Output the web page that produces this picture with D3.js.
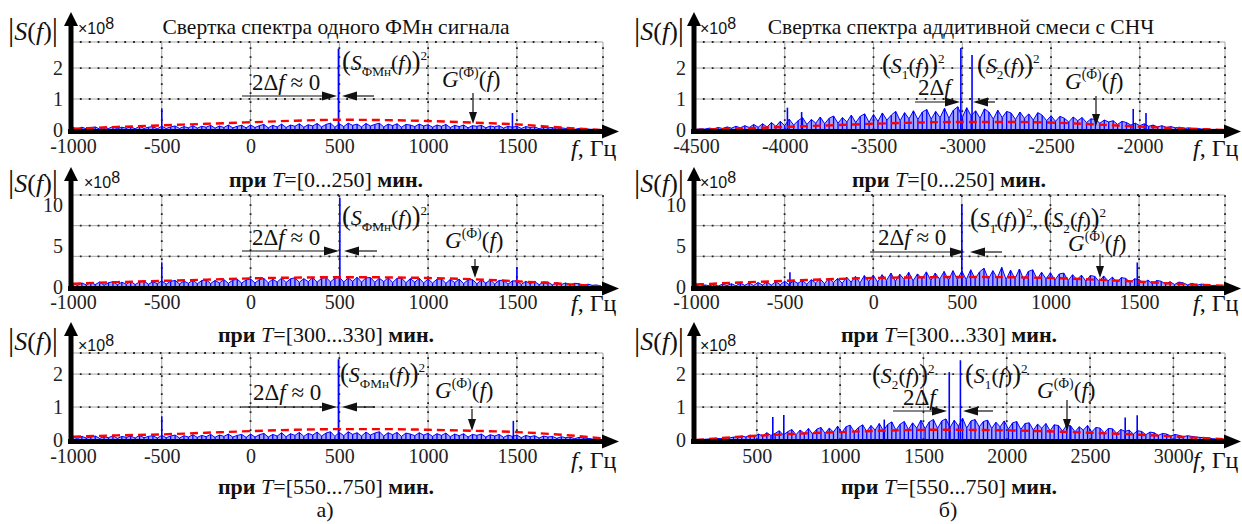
<!DOCTYPE html>
<html lang="ru">
<head>
<meta charset="utf-8">
<title>Свертка спектра</title>
<script src="https://cdn.jsdelivr.net/npm/d3@7"></script>
<style>
  body { margin: 0; background: #fff; }
  svg { display: block; }
  text { font-family: "Liberation Serif", "Times New Roman", serif; }
</style>
</head>
<body>
<script>
// ---- data ----
var titles = ["Свертка спектра одного ФМн сигнала", "Свертка спектра аддитивной смеси с СНЧ"];
var periods = ["0...250", "300...330", "550...750"];
var panelLetters = ["а)", "б)"];

var xDomainA = [-1000, 1985];
var xDomainB1 = [-4500, -1520];
var xDomainB3 = [135, 3310];
var xTicksA = [-1000, -500, 0, 500, 1000, 1500];
var xTicksB1 = [-4500, -4000, -3500, -3000, -2500, -2000];
var xTicksB3 = [500, 1000, 1500, 2000, 2500, 3000];
var yTicksSmall = [0, 1, 2];
var yTicksBig = [0, 5, 10];
var yGridSmall = [1, 2];
var yGridBig = [3.75, 7.5];
var yMaxRow = [2.84, 11.25, 2.64];
var step = 25; // Hz between spectrum samples

var noiseA1 = [
  0.08,0.03,0.09,0.04,0.07,0.10,0.03,0.08,0.05,0.11,0.04,0.09,0.06,0.10,0.04,0.12,0.05,0.09,0.11,0.04,
  0.12,0.05,0.10,0.13,0.05,0.11,0.07,0.14,0.06,0.12,0.09,0.15,0.06,0.13,0.08,0.16,0.07,0.12,0.15,0.07,
  0.16,0.08,0.14,0.18,0.07,0.15,0.10,0.19,0.08,0.16,0.12,0.20,0.09,0.17,0.13,0.21,0.10,0.18,0.22,0.09,
  0.20,0.11,0.22,0.15,0.19,0.10,0.21,0.13,0.18,0.22,0.10,0.19,0.14,0.20,0.09,0.18,0.16,0.11,0.19,0.13,
  0.17,0.09,0.16,0.12,0.18,0.08,0.15,0.11,0.16,0.07,0.14,0.12,0.15,0.07,0.13,0.10,0.14,0.06,0.12,0.09,
  0.12,0.05,0.11,0.08,0.10,0.04,0.09,0.07,0.08,0.03,0.07,0.05,0.06,0.02,0.05,0.04,0.03,0.02,0.02,0.01];
var noiseA2 = [
  0.45,0.20,0.50,0.25,0.55,0.30,0.60,0.22,0.52,0.65,0.28,0.58,0.35,0.68,0.30,0.62,0.72,0.33,0.66,0.40,
  0.75,0.35,0.70,0.80,0.38,0.72,0.45,0.85,0.40,0.78,0.88,0.42,0.80,0.50,0.90,0.45,0.84,0.95,0.48,0.86,
  0.98,0.50,0.90,1.05,0.52,0.95,0.60,1.10,0.55,1.00,1.12,0.58,1.02,0.65,1.15,0.60,1.05,1.18,0.62,1.08,
  1.20,0.62,1.10,0.70,1.18,0.60,1.12,1.15,0.58,1.08,0.66,1.14,0.55,1.05,1.10,0.52,1.02,0.60,1.06,0.50,
  0.98,0.48,0.95,1.00,0.45,0.92,0.55,0.96,0.42,0.88,0.90,0.40,0.85,0.48,0.86,0.38,0.80,0.82,0.35,0.75,
  0.72,0.32,0.70,0.40,0.68,0.28,0.62,0.60,0.26,0.55,0.30,0.50,0.22,0.45,0.40,0.18,0.35,0.20,0.25,0.10];
var noiseA3 = [
  0.10,0.04,0.11,0.06,0.09,0.12,0.05,0.10,0.07,0.13,0.05,0.11,0.08,0.12,0.06,0.14,0.07,0.11,0.13,0.06,
  0.14,0.07,0.12,0.15,0.06,0.13,0.09,0.16,0.08,0.14,0.10,0.17,0.08,0.15,0.11,0.18,0.09,0.14,0.17,0.08,
  0.18,0.09,0.16,0.20,0.09,0.17,0.12,0.22,0.10,0.19,0.14,0.23,0.11,0.20,0.15,0.24,0.12,0.21,0.25,0.11,
  0.23,0.13,0.25,0.17,0.22,0.12,0.24,0.15,0.21,0.25,0.12,0.22,0.16,0.23,0.11,0.21,0.18,0.13,0.22,0.15,
  0.20,0.11,0.19,0.14,0.21,0.10,0.18,0.13,0.19,0.09,0.17,0.14,0.18,0.09,0.16,0.12,0.17,0.08,0.15,0.11,
  0.15,0.07,0.14,0.10,0.13,0.06,0.12,0.09,0.11,0.05,0.10,0.07,0.09,0.04,0.08,0.06,0.05,0.03,0.04,0.02];
var noiseB1 = [
  0.02,0.04,0.03,0.06,0.04,0.08,0.05,0.10,0.06,0.12,0.07,0.14,0.08,0.18,0.09,0.20,0.10,0.24,0.12,0.28,
  0.14,0.35,0.16,0.30,0.40,0.18,0.34,0.22,0.42,0.20,0.38,0.45,0.22,0.40,0.26,0.48,0.24,0.44,0.52,0.25,
  0.50,0.28,0.55,0.32,0.48,0.60,0.30,0.56,0.36,0.62,0.34,0.58,0.66,0.35,0.60,0.40,0.70,0.38,0.64,0.75,
  0.40,0.72,0.45,0.62,0.38,0.68,0.58,0.35,0.64,0.40,0.60,0.55,0.34,0.58,0.38,0.52,0.32,0.56,0.48,0.30,
  0.46,0.28,0.44,0.38,0.26,0.42,0.30,0.40,0.24,0.36,0.34,0.22,0.32,0.26,0.30,0.18,0.28,0.24,0.16,0.22,
  0.14,0.20,0.12,0.16,0.10,0.14,0.08,0.11,0.07,0.09,0.05,0.07,0.04,0.05,0.03,0.04,0.02,0.02,0.01,0.01];
var noiseB2 = [
  0.20,0.10,0.25,0.15,0.30,0.12,0.35,0.18,0.40,0.15,0.45,0.20,0.50,0.18,0.55,0.25,0.60,0.22,0.65,0.28,
  0.70,0.30,0.75,0.45,0.80,0.35,0.90,0.50,1.00,0.40,1.10,0.55,1.05,0.45,1.20,0.60,1.30,0.50,1.40,0.65,
  1.45,0.60,1.50,0.80,1.70,0.70,1.55,0.90,1.80,0.75,1.60,1.00,1.85,0.80,1.70,0.95,1.90,0.85,2.00,0.90,
  1.95,0.90,2.10,1.00,1.85,2.30,0.95,2.00,1.10,2.40,0.90,2.05,1.00,2.20,0.85,1.90,2.10,0.95,1.80,1.00,
  1.75,0.85,1.60,1.70,0.80,1.50,0.90,1.45,0.70,1.40,1.30,0.65,1.35,0.75,1.20,0.60,1.15,1.05,0.55,1.00,
  0.90,0.45,0.85,0.40,0.80,0.70,0.35,0.65,0.30,0.60,0.50,0.25,0.45,0.20,0.35,0.30,0.15,0.20,0.10,0.05];
var noiseB3 = [
  0.01,0.02,0.02,0.03,0.04,0.05,0.04,0.07,0.06,0.09,
  0.08,0.12,0.09,0.15,0.10,0.18,0.12,0.22,0.14,0.20,
  0.28,0.15,0.25,0.32,0.16,0.30,0.20,0.35,0.18,0.33,
  0.38,0.20,0.36,0.24,0.42,0.22,0.40,0.45,0.25,0.38,
  0.46,0.26,0.44,0.30,0.50,0.28,0.47,0.55,0.30,0.48,
  0.56,0.32,0.52,0.36,0.60,0.34,0.55,0.62,0.35,0.58,
  0.64,0.38,0.60,0.42,0.66,0.36,0.58,0.62,0.40,0.56,
  0.60,0.35,0.54,0.40,0.58,0.33,0.52,0.56,0.32,0.50,
  0.52,0.30,0.48,0.36,0.50,0.28,0.46,0.44,0.27,0.45,
  0.42,0.25,0.40,0.30,0.44,0.24,0.38,0.36,0.22,0.35,
  0.34,0.20,0.32,0.26,0.30,0.18,0.28,0.26,0.16,0.24,
  0.22,0.14,0.20,0.18,0.12,0.17,0.14,0.10,0.13,0.11,
  0.09,0.08,0.07,0.06,0.04,0.03,0.02,0.01];

// narrow spectral lines [f, |S|]
var peaksA1 = [[-500, 0.70], [495, 2.62], [1475, 0.55]];
var peaksA2 = [[-500, 3.0], [503, 10.9], [1500, 2.4]];
var peaksA3 = [[-500, 0.72], [495, 2.45], [1480, 0.58]];
var peaksB1 = [[-3985, 0.72], [-3905, 0.58], [-3008, 2.65], [-2945, 2.42], [-2037, 0.68], [-1965, 0.55]];
var peaksB2 = [[-470, 1.8], [500, 10.1], [1490, 3.0]];
var peaksB3 = [[596, 0.70], [662, 0.76], [1265, 0.62], [1655, 2.06], [1722, 2.42], [2380, 0.45], [2711, 0.68], [2783, 0.75]];

// G(Ф)(f) curves
var gFreqA = [-1000, -750, -500, -250, 0, 250, 500, 750, 1000, 1250, 1500, 1750, 1985];
var gA1 = [0.04, 0.10, 0.15, 0.20, 0.25, 0.30, 0.33, 0.32, 0.29, 0.24, 0.18, 0.08, 0.0];
var gA2 = [0.40, 0.60, 0.75, 0.90, 1.05, 1.15, 1.20, 1.18, 1.10, 0.95, 0.70, 0.40, 0.05];
var gA3 = [0.10, 0.14, 0.17, 0.22, 0.27, 0.31, 0.33, 0.33, 0.31, 0.28, 0.24, 0.16, 0.05];
var gFreqB1 = [-4500, -4250, -4000, -3750, -3500, -3250, -3000, -2750, -2500, -2250, -2000, -1750, -1520];
var gB1 = [0.0, 0.05, 0.10, 0.15, 0.20, 0.24, 0.26, 0.26, 0.24, 0.18, 0.11, 0.05, 0.0];
var gB2 = [0.30, 0.55, 0.75, 0.95, 1.10, 1.18, 1.22, 1.20, 1.10, 0.90, 0.65, 0.35, 0.15];
var gFreqB3 = [135, 400, 700, 1000, 1300, 1600, 1900, 2200, 2500, 2800, 3100, 3310];
var gB3 = [0.0, 0.10, 0.18, 0.24, 0.29, 0.31, 0.30, 0.27, 0.22, 0.16, 0.08, 0.02];

// ---- layout ----
var W = 1242, H = 524;
var serif = "Liberation Serif, Times New Roman, serif";
var sans = "Liberation Sans, Arial, sans-serif";
var cols = [
  {x0: 73, x1: 603, yAxisX: 71, arrowEnd: 619, titleX: 336, capX: 326, sLabX: 8, expX: 78},
  {x0: 696, x1: 1225, yAxisX: 694, arrowEnd: 1241, titleX: 961, capX: 949, sLabX: 634, expX: 700}
];
var rows = [
  {top: 42, bottom: 130, tip: 12, tickY: 153, capY: 187, sLabY: 40, expY: 34, fY: 156},
  {top: 195, bottom: 287, tip: 167, tickY: 309, capY: 342, sLabY: 192, expY: 188, fY: 311},
  {top: 353, bottom: 440, tip: 322, tickY: 463, capY: 494, sLabY: 350, expY: 351, fY: 468}
];

var panels = [
  {name: "a1", col: 0, row: 0, xDomain: xDomainA, xTicks: xTicksA, yTicks: yTicksSmall, yGrid: yGridSmall, noiseStart: -1000, noise: noiseA1, peaks: peaksA1, gF: gFreqA, gV: gA1},
  {name: "a2", col: 0, row: 1, xDomain: xDomainA, xTicks: xTicksA, yTicks: yTicksBig, yGrid: yGridBig, noiseStart: -1000, noise: noiseA2, peaks: peaksA2, gF: gFreqA, gV: gA2},
  {name: "a3", col: 0, row: 2, xDomain: xDomainA, xTicks: xTicksA, yTicks: yTicksSmall, yGrid: yGridSmall, noiseStart: -1000, noise: noiseA3, peaks: peaksA3, gF: gFreqA, gV: gA3},
  {name: "b1", col: 1, row: 0, xDomain: xDomainB1, xTicks: xTicksB1, yTicks: yTicksSmall, yGrid: yGridSmall, noiseStart: -4500, noise: noiseB1, peaks: peaksB1, gF: gFreqB1, gV: gB1},
  {name: "b2", col: 1, row: 1, xDomain: xDomainA, xTicks: xTicksA, yTicks: yTicksBig, yGrid: yGridBig, noiseStart: -1000, noise: noiseB2, peaks: peaksB2, gF: gFreqA, gV: gB2},
  {name: "b3", col: 1, row: 2, xDomain: xDomainB3, xTicks: xTicksB3, yTicks: yTicksSmall, yGrid: yGridSmall, noiseStart: 135, noise: noiseB3, peaks: peaksB3, gF: gFreqB3, gV: gB3}
];

var svg = d3.select("body").append("svg")
  .attr("width", W).attr("height", H);

// text made of pieces: [string, "i b sub sup up big sans"]
function rich(parent, x, y, parts, size, anchor) {
  var t = parent.append("text")
    .attr("x", x).attr("y", y)
    .attr("font-size", size)
    .attr("text-anchor", anchor || "start")
    .attr("fill", "#111");
  var shift = 0;
  parts.forEach(function(p) {
    var st = (p[1] || "").split(" ");
    var has = function(k) { return st.indexOf(k) >= 0; };
    var fs = size, target = 0;
    if (has("sub")) { fs = size * 0.6; target = size * 0.25; }
    if (has("sup")) { fs = size * 0.6; target = -size * 0.45; }
    if (has("up")) target = -size * 0.3;
    if (has("big")) fs = size * 1.2;
    var ts = t.append("tspan").text(p[0]).attr("font-size", fs);
    if (target - shift !== 0) ts.attr("dy", target - shift);
    shift = target;
    if (has("i")) ts.attr("font-style", "italic");
    if (has("b")) ts.attr("font-weight", "bold");
    if (has("sans")) ts.style("font-family", sans);
  });
  return t;
}

function hArrow(g, xFrom, yy, xTip) {
  var dir = xTip > xFrom ? 1 : -1;
  g.append("line").attr("x1", xFrom).attr("y1", yy).attr("x2", xTip - dir * 10).attr("y2", yy)
    .attr("stroke", "#111").attr("stroke-width", 1.2);
  g.append("path").attr("d", "M" + xTip + "," + yy + "L" + (xTip - dir * 15) + "," + (yy - 4.5) + "L" + (xTip - dir * 15) + "," + (yy + 4.5) + "Z")
    .attr("fill", "#111");
}
function vArrow(g, xx, yFrom, yTip) {
  g.append("line").attr("x1", xx).attr("y1", yFrom).attr("x2", xx).attr("y2", yTip - 8)
    .attr("stroke", "#111").attr("stroke-width", 1.2);
  g.append("path").attr("d", "M" + xx + "," + yTip + "L" + (xx - 4) + "," + (yTip - 12) + "L" + (xx + 4) + "," + (yTip - 12) + "Z")
    .attr("fill", "#111");
}

var sFMn = [["(", "big"], ["S", "i"], ["ФМн", "sub"], ["(", ""], ["f", "i"], [")", ""], [")", "big"], ["2", "sup"]];
var s1 = [["(", "big"], ["S", "i"], ["1", "sub"], ["(", ""], ["f", "i"], [")", ""], [")", "big"], ["2", "sup"]];
var s2 = [["(", "big"], ["S", "i"], ["2", "sub"], ["(", ""], ["f", "i"], [")", ""], [")", "big"], ["2", "sup"]];
var gPhi = [["G", "i"], ["(Ф)", "sup"], ["(", ""], ["f", "i"], [")", ""]];
var dfZero = [["2Δ", ""], ["f", "i"], [" ≈ 0", ""]];
var df = [["2Δ", ""], ["f", "i"]];

var notes = {
  a1: function(g) {
    rich(g, 342, 70, sFMn, 22); rich(g, 252, 90, dfZero, 23);
    hArrow(g, 242, 96, 337); hArrow(g, 374, 96, 342);
    rich(g, 442, 87, gPhi, 23); vArrow(g, 473, 93, 124);
  },
  a2: function(g) {
    rich(g, 342, 225, sFMn, 22); rich(g, 252, 245, dfZero, 23);
    hArrow(g, 242, 251, 339); hArrow(g, 377, 251, 344);
    rich(g, 445, 248, gPhi, 23); vArrow(g, 475, 259, 278);
  },
  a3: function(g) {
    rich(g, 340, 382, sFMn, 22); rich(g, 253, 400, dfZero, 23);
    hArrow(g, 242, 407, 337); hArrow(g, 375, 407, 342);
    rich(g, 435, 398, gPhi, 23); vArrow(g, 472, 409, 431);
  },
  b1: function(g) {
    rich(g, 882, 73, s1, 22); rich(g, 977, 73, s2, 22);
    rich(g, 918, 95, df, 23);
    hArrow(g, 915, 102, 960); hArrow(g, 995, 102, 973);
    rich(g, 1065, 89, gPhi, 23); vArrow(g, 1096, 96, 126);
  },
  b2: function(g) {
    rich(g, 970, 227, s1.concat([[", ", ""]], s2), 22); rich(g, 878, 245, dfZero, 23);
    hArrow(g, 870, 252, 965); hArrow(g, 1002, 252, 970);
    rich(g, 1068, 251, gPhi, 23); vArrow(g, 1100, 254, 278);
  },
  b3: function(g) {
    rich(g, 872, 383, s2, 22); rich(g, 965, 383, s1, 22);
    rich(g, 903, 405, df, 23);
    hArrow(g, 893, 411, 947); hArrow(g, 993, 411, 963);
    rich(g, 1037, 398, gPhi, 23); vArrow(g, 1067, 400, 431);
  }
};

function drawPanel(p) {
  var c = cols[p.col], r = rows[p.row];
  var yMax = yMaxRow[p.row];
  var x = d3.scaleLinear().domain(p.xDomain).range([c.x0, c.x1]);
  var y = d3.scaleLinear().domain([0, yMax]).range([r.bottom, r.top]);
  var g = svg.append("g").attr("class", "panel " + p.name);

  // grid: grey lines with black dots at minor steps
  var period = (x(p.xTicks[2]) - x(p.xTicks[1])) / 10;
  var hVals = p.yGrid.concat([yMax]);
  var vVals = p.xTicks.filter(function(f) { return f > p.xDomain[0]; }).concat([p.xDomain[1]]);
  var grid = g.append("g");
  hVals.forEach(function(v) {
    [["#9a9a9a", 0.9, null], ["#222", 1.8, "1.8," + (period - 1.8)]].forEach(function(s) {
      grid.append("line").attr("x1", c.yAxisX).attr("x2", x(p.xDomain[1]))
        .attr("y1", y(v)).attr("y2", y(v))
        .attr("stroke", s[0]).attr("stroke-width", s[1]).attr("stroke-dasharray", s[2]);
    });
  });
  vVals.forEach(function(f) {
    [["#9a9a9a", 0.9, null], ["#222", 1.8, "1.8,7.2"]].forEach(function(s) {
      grid.append("line").attr("x1", x(f)).attr("x2", x(f))
        .attr("y1", r.bottom).attr("y2", y(yMax))
        .attr("stroke", s[0]).attr("stroke-width", s[1]).attr("stroke-dasharray", s[2]);
    });
  });

  // spectrum: samples as thin stems joined by a polyline
  var fx = function(v, i) { return x(p.noiseStart + i * step); };
  var area = d3.area().x(fx).y0(y(0)).y1(function(v) { return y(v); });
  var line = d3.line().x(fx).y(function(v) { return y(v); });
  g.append("path").datum(p.noise).attr("d", area)
    .attr("fill", "#0000ff").attr("fill-opacity", 0.35);
  g.append("g").selectAll("line").data(p.noise).enter().append("line")
    .attr("x1", fx).attr("x2", fx)
    .attr("y1", y(0)).attr("y2", function(v) { return y(v); })
    .attr("stroke", "#0000ff").attr("stroke-width", 1.3);
  g.append("path").datum(p.noise).attr("d", line)
    .attr("fill", "none").attr("stroke", "#0000ff").attr("stroke-width", 1);
  g.selectAll("line.peak").data(p.peaks).enter().append("line").attr("class", "peak")
    .attr("x1", function(d) { return x(d[0]); }).attr("x2", function(d) { return x(d[0]); })
    .attr("y1", y(0)).attr("y2", function(d) { return y(d[1]); })
    .attr("stroke", "#0000ff").attr("stroke-width", 1.6);

  // G(Ф)(f)
  var gLine = d3.line()
    .x(function(d) { return x(d[0]); })
    .y(function(d) { return y(d[1]); })
    .curve(d3.curveMonotoneX);
  g.append("path").datum(d3.zip(p.gF, p.gV)).attr("d", gLine)
    .attr("fill", "none").attr("stroke", "#ff0000").attr("stroke-width", 2.4)
    .attr("stroke-dasharray", "8,5");

  // thick axes with arrows
  var ax = r.bottom + 1.5;
  g.append("line").attr("x1", c.yAxisX - 3).attr("x2", c.arrowEnd - 12)
    .attr("y1", ax).attr("y2", ax).attr("stroke", "#000").attr("stroke-width", 5);
  g.append("path").attr("d", "M" + c.arrowEnd + "," + ax + "L" + (c.arrowEnd - 17) + "," + (ax - 7) + "L" + (c.arrowEnd - 17) + "," + (ax + 7) + "Z");
  g.append("line").attr("x1", c.yAxisX).attr("x2", c.yAxisX)
    .attr("y1", ax + 2.5).attr("y2", r.tip + 10).attr("stroke", "#000").attr("stroke-width", 5);
  g.append("path").attr("d", "M" + c.yAxisX + "," + r.tip + "L" + (c.yAxisX - 7) + "," + (r.tip + 14) + "L" + (c.yAxisX + 7) + "," + (r.tip + 14) + "Z");

  // tick labels
  var xa = g.append("g").attr("transform", "translate(0," + (r.tickY - 14.2) + ")")
    .call(d3.axisBottom(x).tickValues(p.xTicks).tickSize(0).tickPadding(0)
      .tickFormat(function(d) { return String(d); }));
  xa.select(".domain").remove();
  xa.attr("font-size", 20).attr("font-family", serif);
  xa.selectAll("text").attr("fill", "#222");
  var ya = g.append("g").attr("transform", "translate(" + (c.yAxisX - 1) + ",0)")
    .call(d3.axisLeft(y).tickValues(p.yTicks).tickSize(0).tickPadding(7)
      .tickFormat(function(d) { return String(d); }));
  ya.select(".domain").remove();
  ya.attr("font-size", 20).attr("font-family", serif);
  ya.selectAll("text").attr("fill", "#222");

  // axis names
  rich(g, c.sLabX, r.sLabY, [["|", "big"], ["S", "i"], ["(", ""], ["f", "i"], [")", ""], ["|", "big"]], 26);
  rich(g, c.expX + (p.row === 1 && p.col === 0 ? 6 : 0), r.expY, [["×10", "sans"], ["8", "sans up"]], 16);
  rich(g, c.arrowEnd - 48, r.fY, [["f", "i"], [", Гц", ""]], 24);

  notes[p.name](g);
}

panels.forEach(drawPanel);

// titles, captions
cols.forEach(function(c, i) {
  svg.append("text").attr("x", c.titleX).attr("y", 34).attr("text-anchor", "middle")
    .attr("font-size", 21.5).attr("fill", "#111").text(titles[i]);
  rows.forEach(function(r, j) {
    rich(svg, c.capX, r.capY, [["при ", "b"], ["T", "i"], ["=[" + periods[j] + "] ", ""], ["мин.", "b"]], 22, "middle");
  });
  svg.append("text").attr("x", c.capX - 1).attr("y", 517).attr("text-anchor", "middle")
    .attr("font-size", 22).attr("fill", "#111").text(panelLetters[i]);
});
</script>
</body>
</html>
